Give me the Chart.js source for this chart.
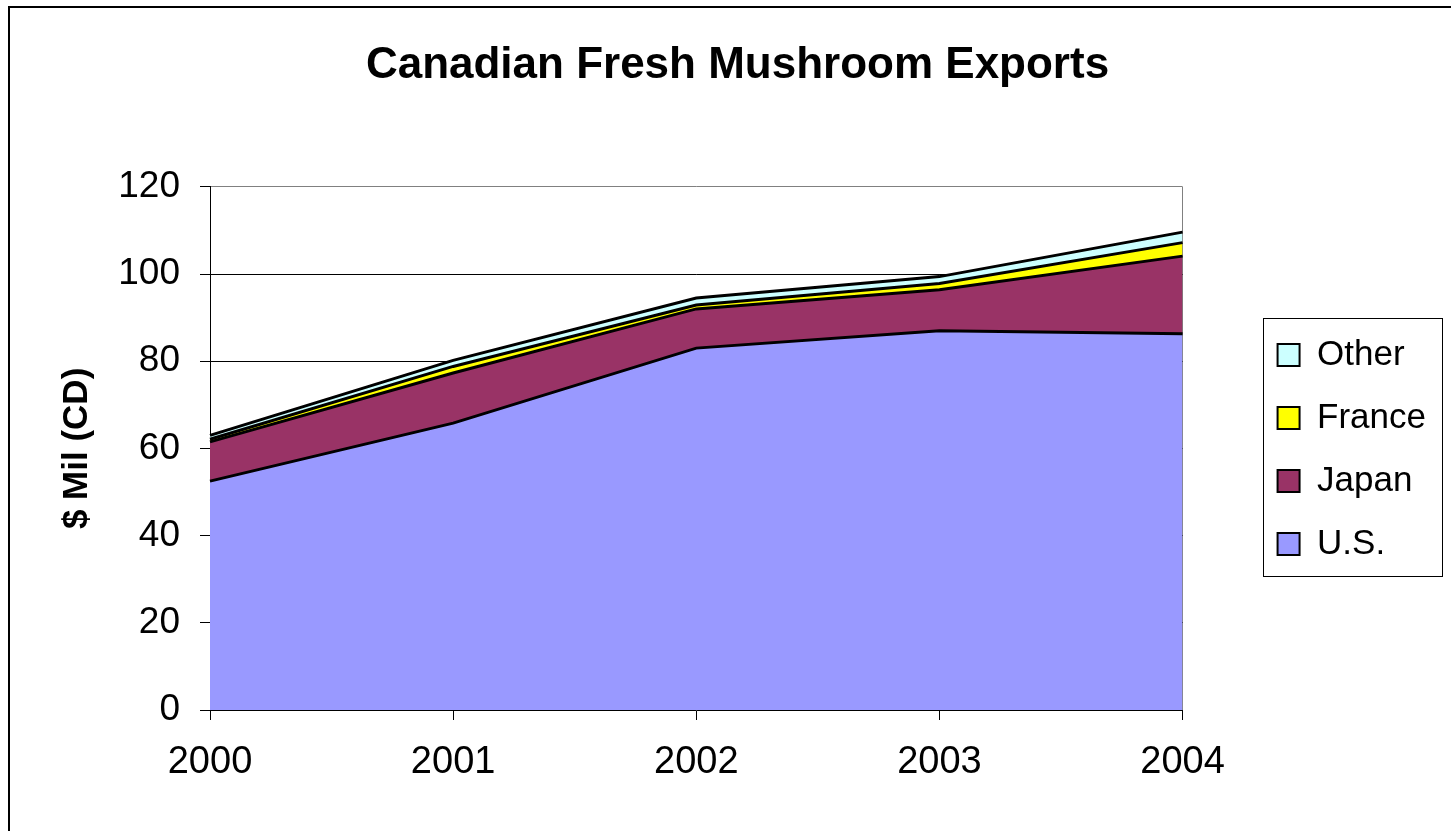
<!DOCTYPE html>
<html>
<head>
<meta charset="utf-8">
<title>Canadian Fresh Mushroom Exports</title>
<script src="https://cdn.jsdelivr.net/npm/chart.js@4"></script>
<style>
  body { margin: 0; background: #fff; }
  canvas { display: block; }
</style>
</head>
<body>
<canvas id="chart" width="1451" height="831"></canvas>
<script>
const years = ["2000", "2001", "2002", "2003", "2004"];
const usValues = [52.5, 65.8, 83.0, 87.0, 86.3];
const japanValues = [9.0, 11.5, 9.0, 9.4, 17.8];
const franceValues = [0.6, 1.5, 0.9, 1.4, 3.1];
const otherValues = [0.9, 1.4, 1.6, 1.6, 2.4];
const yTicks = [0, 20, 40, 60, 80, 100, 120];

const FONT = "Arial, 'Liberation Sans', sans-serif";

// page frame + legend box, Excel style
const framePlugin = {
  id: "frame",
  beforeDraw(chart) {
    const c = chart.ctx;
    c.save();
    c.fillStyle = "#fff";
    c.fillRect(0, 0, chart.width, chart.height);
    c.strokeStyle = "#000";
    c.lineWidth = 2;
    c.strokeRect(9, 7, chart.width + 40, chart.height + 40);
    c.restore();
  },
  afterLayout(chart) {
    const lg = chart.legend;
    lg.left += 67; lg.right += 67;
    lg.top += 34; lg.bottom += 34;
    // centre the title on the whole page, not just left of the padding
    const t = chart.titleBlock;
    t.left += 24; t.right += 82;
  },
  afterDraw(chart) {
    const boxes = chart.legend.legendHitBoxes;
    if (!boxes || !boxes.length) return;
    const left = Math.min(...boxes.map(b => b.left)) - 15;
    const right = Math.max(...boxes.map(b => b.left + b.width)) + 16;
    const top = boxes[0].top - 20;
    const last = boxes[boxes.length - 1];
    const bottom = last.top + last.height + 14;
    const c = chart.ctx;
    c.save();
    c.strokeStyle = "#000";
    c.lineWidth = 1;
    c.strokeRect(Math.round(left) + 0.5, Math.round(top) + 0.5, Math.round(right - left), Math.round(bottom - top));
    c.restore();
  }
};

const area = (label, data, color, fill) => ({
  label, data,
  backgroundColor: color,
  borderColor: "#000",
  borderWidth: 3,
  pointRadius: 0,
  tension: 0,
  fill
});

new Chart(document.getElementById("chart"), {
  type: "line",
  data: {
    labels: years,
    datasets: [
      area("U.S.", usValues, "#9999FF", "origin"),
      area("Japan", japanValues, "#993366", "-1"),
      area("France", franceValues, "#FFFF00", "-1"),
      area("Other", otherValues, "#CCFFFF", "-1")
    ]
  },
  options: {
    responsive: false,
    animation: false,
    devicePixelRatio: 1,
    layout: { padding: { left: 0, right: 82, top: 0, bottom: 0 } },
    plugins: {
      title: {
        display: true,
        text: "Canadian Fresh Mushroom Exports",
        color: "#000",
        font: { family: FONT, size: 44, weight: "bold" },
        padding: { top: 39, bottom: 95 }
      },
      legend: {
        position: "right",
        reverse: true,
        labels: {
          color: "#000",
          font: { family: FONT, size: 35 },
          boxWidth: 22,
          boxHeight: 22,
          padding: 28,
          generateLabels(chart) {
            const items = Chart.defaults.plugins.legend.labels.generateLabels(chart);
            items.forEach(it => { it.lineWidth = 2; });
            return items;
          }
        }
      },
      tooltip: { enabled: false }
    },
    scales: {
      x: {
        offset: false,
        afterFit(scale) { scale.height = 121; },
        border: { display: true, color: "#000", width: 1 },
        grid: {
          color: ctx => ctx.index === years.length - 1 ? "#808080" : "rgba(0,0,0,0)",
          tickColor: "#000",
          tickLength: 10,
          lineWidth: 1
        },
        ticks: {
          color: "#000",
          font: { family: FONT, size: 38 },
          padding: 20,
          maxRotation: 0
        }
      },
      y: {
        stacked: true,
        min: 0,
        max: 120,
        afterFit(scale) { scale.width = 210; },
        afterBuildTicks(scale) { scale.ticks = yTicks.map(v => ({ value: v })); },
        border: { display: true, color: "#000", width: 1 },
        grid: {
          color: ctx => ctx.tick.value === 120 ? "#808080" : (ctx.tick.value === 0 ? "rgba(0,0,0,0)" : "#000"),
          tickColor: "#000",
          tickLength: 10,
          lineWidth: 1
        },
        ticks: {
          color: "#000",
          font: { family: FONT, size: 37 },
          padding: 20
        },
        title: {
          display: true,
          text: "$ Mil (CD)",
          color: "#000",
          font: { family: FONT, size: 35, weight: "bold" },
          padding: { top: 56, bottom: 0 }
        }
      }
    }
  },
  plugins: [framePlugin]
});
</script>
</body>
</html>
